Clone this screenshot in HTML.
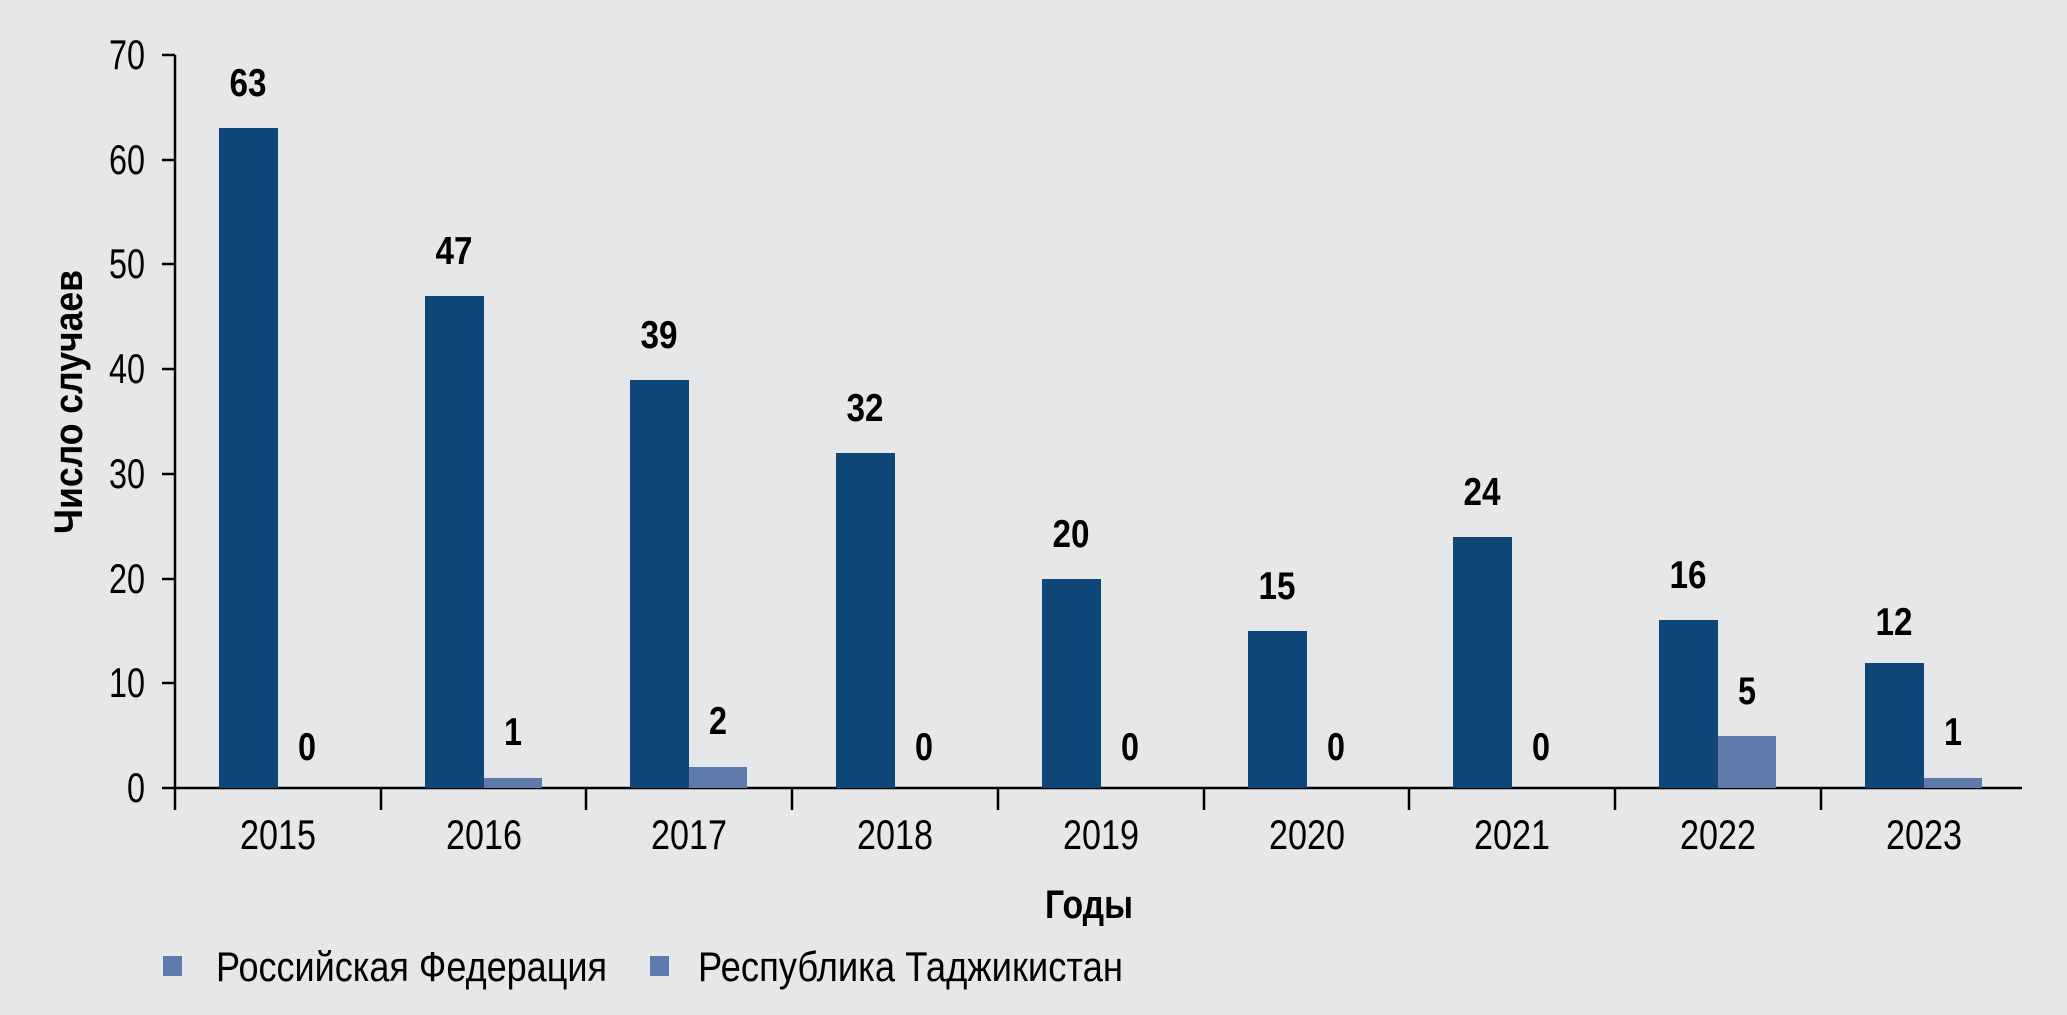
<!DOCTYPE html>
<html><head><meta charset="utf-8"><style>
html,body{margin:0;padding:0;background:#e6e7e9;}
svg{display:block;}
text{font-family:"Liberation Sans Narrow","Liberation Sans",sans-serif;fill:#000;}
</style></head><body>
<svg width="2067" height="1015" viewBox="0 0 2067 1015" xmlns="http://www.w3.org/2000/svg">
<rect width="2067" height="1015" fill="#e6e7e9"/>
<line x1="175" y1="55" x2="175" y2="789" stroke="#000" stroke-width="2.5"/>
<line x1="162" y1="788" x2="2022" y2="788" stroke="#000" stroke-width="2.5"/>
<g stroke="#000" stroke-width="2.5">
<line x1="162" y1="55" x2="175" y2="55"/>
<line x1="162" y1="160" x2="175" y2="160"/>
<line x1="162" y1="264" x2="175" y2="264"/>
<line x1="162" y1="369" x2="175" y2="369"/>
<line x1="162" y1="474" x2="175" y2="474"/>
<line x1="162" y1="579" x2="175" y2="579"/>
<line x1="162" y1="683" x2="175" y2="683"/>
<line x1="175" y1="788" x2="175" y2="810"/>
<line x1="381" y1="788" x2="381" y2="810"/>
<line x1="586" y1="788" x2="586" y2="810"/>
<line x1="792" y1="788" x2="792" y2="810"/>
<line x1="998" y1="788" x2="998" y2="810"/>
<line x1="1204" y1="788" x2="1204" y2="810"/>
<line x1="1409" y1="788" x2="1409" y2="810"/>
<line x1="1615" y1="788" x2="1615" y2="810"/>
<line x1="1821" y1="788" x2="1821" y2="810"/>
</g>
<g font-size="42" text-anchor="end" lengthAdjust="spacingAndGlyphs">
<text x="145" y="69" textLength="36" lengthAdjust="spacingAndGlyphs">70</text>
<text x="145" y="174" textLength="36" lengthAdjust="spacingAndGlyphs">60</text>
<text x="145" y="278" textLength="36" lengthAdjust="spacingAndGlyphs">50</text>
<text x="145" y="383" textLength="36" lengthAdjust="spacingAndGlyphs">40</text>
<text x="145" y="488" textLength="36" lengthAdjust="spacingAndGlyphs">30</text>
<text x="145" y="593" textLength="36" lengthAdjust="spacingAndGlyphs">20</text>
<text x="145" y="697" textLength="36" lengthAdjust="spacingAndGlyphs">10</text>
<text x="145" y="802" textLength="18" lengthAdjust="spacingAndGlyphs">0</text>
</g>
<g fill="#0f4878">
<rect x="219" y="128" width="59" height="660"/>
<rect x="425" y="296" width="59" height="492"/>
<rect x="630" y="380" width="59" height="408"/>
<rect x="836" y="453" width="59" height="335"/>
<rect x="1042" y="579" width="59" height="209"/>
<rect x="1248" y="631" width="59" height="157"/>
<rect x="1453" y="537" width="59" height="251"/>
<rect x="1659" y="620" width="59" height="168"/>
<rect x="1865" y="663" width="59" height="125"/>
</g>
<g fill="#5f7bab">
<rect x="484" y="778" width="58" height="10"/>
<rect x="689" y="767" width="58" height="21"/>
<rect x="1718" y="736" width="58" height="52"/>
<rect x="1924" y="778" width="58" height="10"/>
</g>
<g font-size="39" font-weight="bold" text-anchor="middle">
<text x="248" y="96" textLength="37" lengthAdjust="spacingAndGlyphs">63</text><text x="307" y="760" textLength="18" lengthAdjust="spacingAndGlyphs">0</text>
<text x="454" y="264" textLength="37" lengthAdjust="spacingAndGlyphs">47</text><text x="513" y="745" textLength="18" lengthAdjust="spacingAndGlyphs">1</text>
<text x="659" y="348" textLength="37" lengthAdjust="spacingAndGlyphs">39</text><text x="718" y="734" textLength="18" lengthAdjust="spacingAndGlyphs">2</text>
<text x="865" y="421" textLength="37" lengthAdjust="spacingAndGlyphs">32</text><text x="924" y="760" textLength="18" lengthAdjust="spacingAndGlyphs">0</text>
<text x="1071" y="547" textLength="37" lengthAdjust="spacingAndGlyphs">20</text><text x="1130" y="760" textLength="18" lengthAdjust="spacingAndGlyphs">0</text>
<text x="1277" y="599" textLength="37" lengthAdjust="spacingAndGlyphs">15</text><text x="1336" y="760" textLength="18" lengthAdjust="spacingAndGlyphs">0</text>
<text x="1482" y="505" textLength="37" lengthAdjust="spacingAndGlyphs">24</text><text x="1541" y="760" textLength="18" lengthAdjust="spacingAndGlyphs">0</text>
<text x="1688" y="588" textLength="37" lengthAdjust="spacingAndGlyphs">16</text><text x="1747" y="704" textLength="18" lengthAdjust="spacingAndGlyphs">5</text>
<text x="1894" y="635" textLength="37" lengthAdjust="spacingAndGlyphs">12</text><text x="1953" y="745" textLength="18" lengthAdjust="spacingAndGlyphs">1</text>
</g>
<g font-size="42" text-anchor="middle">
<text x="278" y="849" textLength="76" lengthAdjust="spacingAndGlyphs">2015</text>
<text x="484" y="849" textLength="76" lengthAdjust="spacingAndGlyphs">2016</text>
<text x="689" y="849" textLength="76" lengthAdjust="spacingAndGlyphs">2017</text>
<text x="895" y="849" textLength="76" lengthAdjust="spacingAndGlyphs">2018</text>
<text x="1101" y="849" textLength="76" lengthAdjust="spacingAndGlyphs">2019</text>
<text x="1307" y="849" textLength="76" lengthAdjust="spacingAndGlyphs">2020</text>
<text x="1512" y="849" textLength="76" lengthAdjust="spacingAndGlyphs">2021</text>
<text x="1718" y="849" textLength="76" lengthAdjust="spacingAndGlyphs">2022</text>
<text x="1924" y="849" textLength="76" lengthAdjust="spacingAndGlyphs">2023</text>
</g>
<text x="1089" y="918" font-size="40" font-weight="bold" text-anchor="middle" textLength="88" lengthAdjust="spacingAndGlyphs">Годы</text>
<text transform="translate(82,402) rotate(-90)" font-size="40" font-weight="bold" text-anchor="middle" textLength="264" lengthAdjust="spacingAndGlyphs">Число случаев</text>
<rect x="163" y="956" width="19" height="20" fill="#5f7bab"/>
<text x="216" y="981" font-size="42" textLength="391" lengthAdjust="spacingAndGlyphs">Российская Федерация</text>
<rect x="650" y="956" width="19" height="20" fill="#5f7bab"/>
<text x="698" y="981" font-size="42" textLength="425" lengthAdjust="spacingAndGlyphs">Республика Таджикистан</text>
</svg>
</body></html>
